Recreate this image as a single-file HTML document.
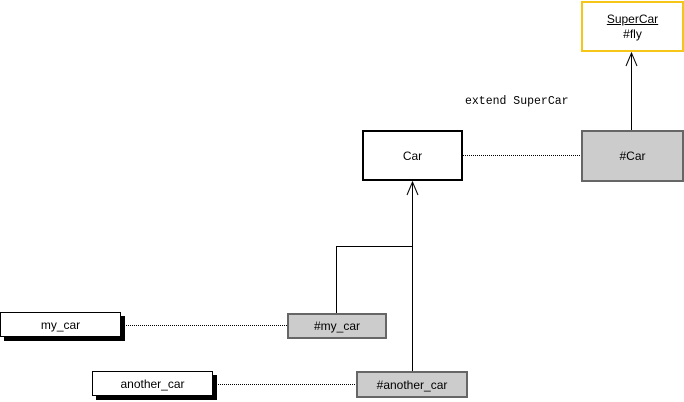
<!DOCTYPE html>
<html><head><style>
body{margin:0;width:684px;height:402px;background:#fff;position:relative;overflow:hidden;font-family:"Liberation Sans",sans-serif;font-size:12px;color:#000}
.b{position:absolute;box-sizing:border-box;display:flex;align-items:center;justify-content:center;text-align:center}
</style></head><body>
<svg width="684" height="402" style="position:absolute;left:0;top:0">
<g stroke="#000" stroke-width="1" fill="none">
<line x1="463" y1="155.5" x2="581" y2="155.5" stroke-dasharray="1,1"/>
<line x1="124" y1="325.5" x2="287" y2="325.5" stroke-dasharray="1,1"/>
<line x1="216" y1="384.5" x2="356" y2="384.5" stroke-dasharray="1,1"/>
<line x1="631.5" y1="130" x2="631.5" y2="53"/>
<polyline points="626,66 631.5,53 637,66"/>
<polyline points="336.5,313 336.5,246.5 412.5,246.5"/>
<line x1="412.5" y1="371" x2="412.5" y2="182"/>
<polyline points="407,195 412.5,182 418,195"/>
</g>
<text x="465" y="104" font-family="Liberation Mono,monospace" font-size="11.5">extend SuperCar</text>
</svg>
<div class="b" style="left:581px;top:1px;width:103px;height:51px;border:2px solid #f5c518;background:#fff;flex-direction:column;line-height:15px"><span style="text-decoration:underline">SuperCar</span><span>#fly</span></div>
<div class="b" style="left:362px;top:130px;width:101px;height:51px;border:2px solid #000;background:#fff">Car</div>
<div class="b" style="left:581px;top:130px;width:103px;height:52px;border:2px solid #666;background:#ccc">#Car</div>
<div class="b" style="left:0px;top:312px;width:121px;height:25px;border:1px solid #000;background:#fff;box-shadow:4px 4px 0 #000">my_car</div>
<div class="b" style="left:287px;top:313px;width:100px;height:26px;border:2px solid #666;background:#ccc">#my_car</div>
<div class="b" style="left:92px;top:371px;width:121px;height:25px;border:1px solid #000;background:#fff;box-shadow:4px 4px 0 #000">another_car</div>
<div class="b" style="left:356px;top:371px;width:112px;height:27px;border:2px solid #666;background:#ccc">#another_car</div>
</body></html>
